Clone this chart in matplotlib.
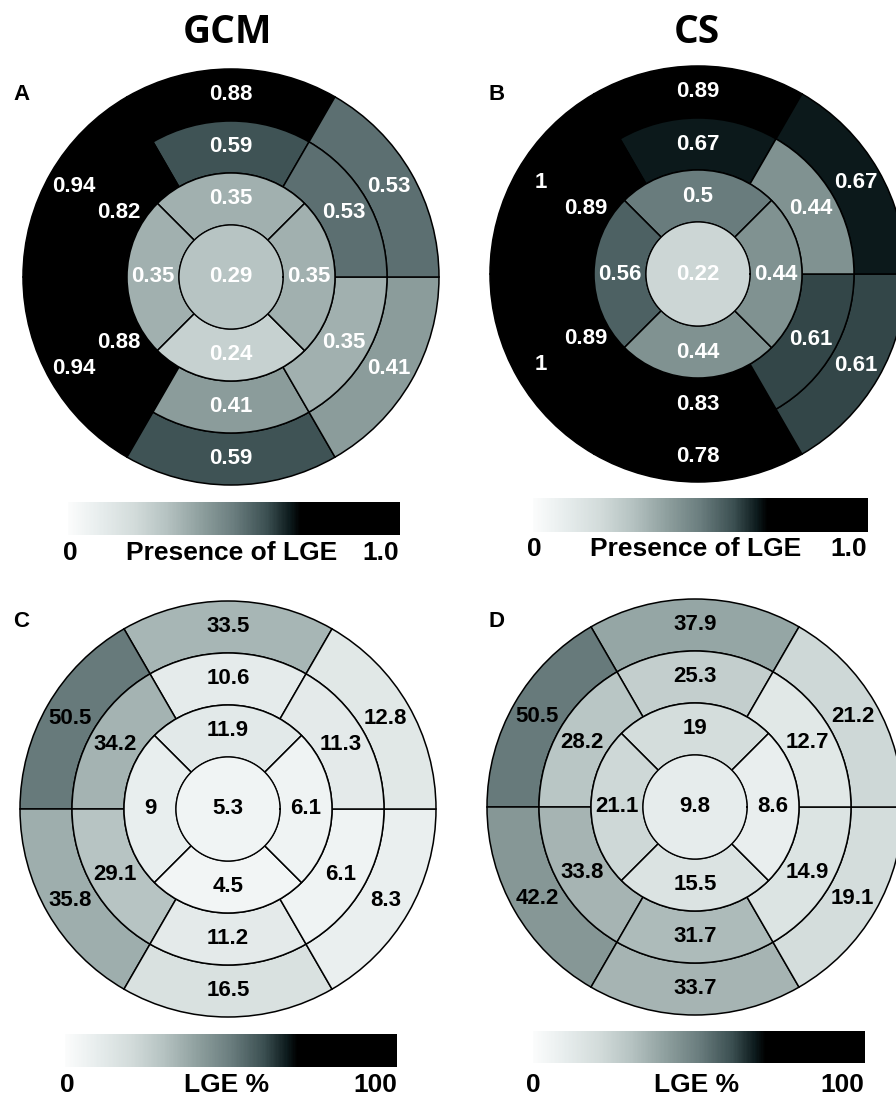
import numpy as np
import matplotlib
matplotlib.use("Agg")
import matplotlib.pyplot as plt
from matplotlib.colors import LinearSegmentedColormap, Normalize
from matplotlib.cm import ScalarMappable

plt.rcParams['font.family'] = ['Liberation Sans', 'DejaVu Sans']

W, H = 896, 1099

# AHA segments. basal / mid order: anterior, anteroseptal, inferoseptal,
# inferior, inferolateral, anterolateral. apical: anterior, septal, inferior, lateral
gcm_pres_basal = [0.88, 0.94, 0.94, 0.59, 0.41, 0.53]
gcm_pres_mid = [0.59, 0.82, 0.88, 0.41, 0.35, 0.53]
gcm_pres_apical = [0.35, 0.35, 0.24, 0.35]
gcm_pres_apex = 0.29

cs_pres_basal = [0.89, 1, 1, 0.78, 0.61, 0.67]
cs_pres_mid = [0.67, 0.89, 0.89, 0.83, 0.61, 0.44]
cs_pres_apical = [0.5, 0.56, 0.44, 0.44]
cs_pres_apex = 0.22

gcm_pct_basal = [33.5, 50.5, 35.8, 16.5, 8.3, 12.8]
gcm_pct_mid = [10.6, 34.2, 29.1, 11.2, 6.1, 11.3]
gcm_pct_apical = [11.9, 9, 4.5, 6.1]
gcm_pct_apex = 5.3

cs_pct_basal = [37.9, 50.5, 42.2, 33.7, 19.1, 21.2]
cs_pct_mid = [25.3, 28.2, 33.8, 31.7, 14.9, 12.7]
cs_pct_apical = [19, 21.1, 15.5, 8.6]
cs_pct_apex = 9.8

# white -> grey-teal -> black colormap (saturates to black at ~70%)
cmap = LinearSegmentedColormap.from_list("lge", [
    (0.0, '#fbfcfc'), (0.1, '#e6ecec'), (0.2, '#d2dbda'), (0.3, '#b4c1c0'),
    (0.4, '#8e9f9e'), (0.5, '#6a7d7e'), (0.6, '#3b4f51'), (0.67, '#0c1a1c'),
    (0.7, '#000000'), (1.0, '#000000')])

six_ang = np.radians([90, 150, 210, 270, 330, 30])
four_ang = np.radians([90, 180, 270, 0])
R_PX = 208          # outer radius in pixels
RMAX = 4.05

fig = plt.figure(figsize=(W / 100, H / 100), dpi=100)


def bullseye(cx, cy, basal, mid, apical, apex, vmax, tcol):
    R = R_PX * RMAX / 4
    ax = fig.add_axes([(cx - R) / W, (H - cy - R) / H, 2 * R / W, 2 * R / H],
                      projection='polar')
    ax.set_ylim(0, RMAX)
    ax.axis('off')
    norm = Normalize(0, vmax)
    for vals, th, w, r0 in [(basal, six_ang, 60, 3), (mid, six_ang, 60, 2),
                            (apical, four_ang, 90, 1)]:
        ax.bar(th, 1, width=np.radians(w), bottom=r0,
               color=cmap(norm(np.array(vals, float))),
               edgecolor='k', linewidth=1.1)
        for t, v in zip(th, vals):
            ax.text(t, r0 + 0.5, f"{v:g}", ha='center', va='center',
                    color=tcol, fontsize=16, fontweight='bold')
    ax.bar(0, 1, width=2 * np.pi, bottom=0, color=cmap(norm(apex)),
           edgecolor='none')
    tt = np.linspace(0, 2 * np.pi, 361)
    ax.plot(tt, np.ones_like(tt), color='k', lw=0.9)
    ax.text(0, 0, f"{apex:g}", ha='center', va='center', color=tcol,
            fontsize=16, fontweight='bold')


def cbar(x0, y0, x1, y1, vmax, lo, mid, hi, ylab, xlo, xmid, xhi):
    cax = fig.add_axes([x0 / W, 1 - y1 / H, (x1 - x0) / W, (y1 - y0) / H])
    cb = fig.colorbar(ScalarMappable(Normalize(0, vmax), cmap), cax=cax,
                      orientation='horizontal')
    cb.set_ticks([])
    cb.outline.set_visible(False)
    kw = dict(va='center', fontsize=19, fontweight='bold')
    fig.text(xlo / W, 1 - ylab / H, lo, ha='center', **kw)
    fig.text(xmid / W, 1 - ylab / H, mid, ha='center', **kw)
    fig.text(xhi / W, 1 - ylab / H, hi, ha='right', **kw)


bullseye(231, 277, gcm_pres_basal, gcm_pres_mid, gcm_pres_apical,
         gcm_pres_apex, 1.0, 'white')
bullseye(698, 274, cs_pres_basal, cs_pres_mid, cs_pres_apical,
         cs_pres_apex, 1.0, 'white')
bullseye(228, 809, gcm_pct_basal, gcm_pct_mid, gcm_pct_apical,
         gcm_pct_apex, 100, 'black')
bullseye(695, 807, cs_pct_basal, cs_pct_mid, cs_pct_apical,
         cs_pct_apex, 100, 'black')

cbar(68, 502, 400, 535, 1.0, '0', 'Presence of LGE', '1.0', 553, 70, 232, 399)
cbar(533, 498, 868, 532, 1.0, '0', 'Presence of LGE', '1.0', 549, 534, 696, 867)
cbar(65, 1034, 397, 1067, 100, '0', 'LGE %', '100', 1085, 67, 227, 397)
cbar(533, 1031, 865, 1063, 100, '0', 'LGE %', '100', 1085, 533, 697, 864)

for name, x in [('GCM', 227), ('CS', 697)]:
    fig.text(x / W, 1 - 43 / H, name, ha='center', va='baseline',
             fontsize=28, fontweight='bold', family=['Open Sans', 'DejaVu Sans'])

for letter, x, y in [('A', 13, 100), ('B', 488, 100), ('C', 13, 627), ('D', 488, 627)]:
    fig.text(x / W, 1 - y / H, letter, ha='left', va='baseline',
             fontsize=16, fontweight='bold')

fig.savefig("out.png", dpi=100)
